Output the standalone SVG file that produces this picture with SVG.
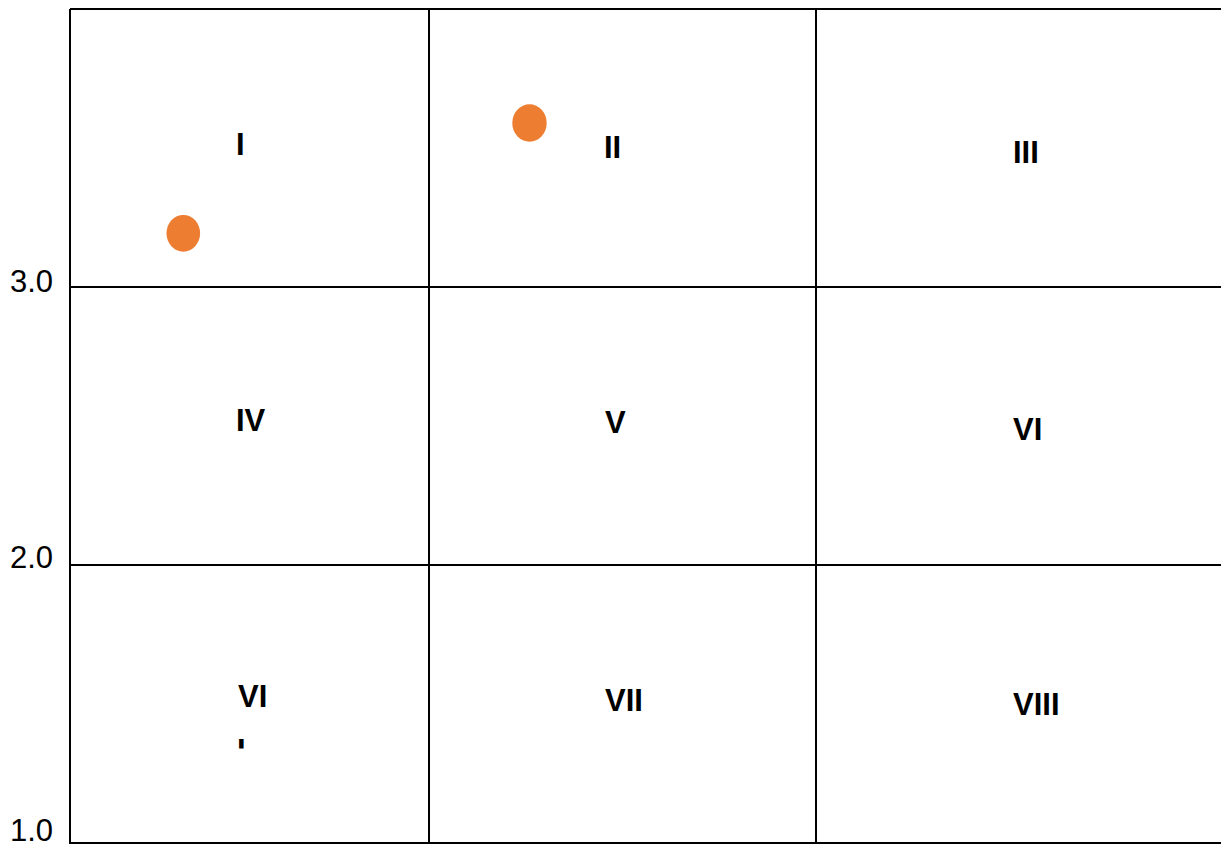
<svg xmlns="http://www.w3.org/2000/svg" width="1221" height="844" viewBox="0 0 1221 844">
  <style>
    .grid { stroke: #000; stroke-width: 2; fill: none; }
    .lbl { font-family: "Liberation Sans", Arial, sans-serif; font-weight: bold; font-size: 31px; fill: #000; }
    .axis { font-family: "Liberation Sans", Arial, sans-serif; font-size: 31px; fill: #000; }
    .dot { fill: #ED7D31; }
  </style>
  <defs>
    <clipPath id="stub">
      <rect x="230" y="738" width="20" height="10.5"/>
    </clipPath>
  </defs>
  <rect width="1221" height="844" fill="#fff"/>
  <g id="grid">
    <line class="grid" x1="70" y1="9" x2="1221" y2="9"/>
    <line class="grid" x1="70" y1="287" x2="1221" y2="287"/>
    <line class="grid" x1="70" y1="565" x2="1221" y2="565"/>
    <line class="grid" x1="70" y1="843" x2="1221" y2="843"/>
    <line class="grid" x1="70" y1="9" x2="70" y2="844"/>
    <line class="grid" x1="429" y1="9" x2="429" y2="844"/>
    <line class="grid" x1="816" y1="9" x2="816" y2="844"/>
  </g>
  <g id="axis">
    <text class="axis" x="10" y="292">3.0</text>
    <text class="axis" x="10" y="568">2.0</text>
    <text class="axis" x="10" y="841">1.0</text>
  </g>
  <g id="cell-I"><text class="lbl" x="236" y="155">I</text></g>
  <g id="cell-II"><text class="lbl" x="604" y="158">II</text></g>
  <g id="cell-III"><text class="lbl" x="1013" y="163">III</text></g>
  <g id="cell-IV"><text class="lbl" x="236" y="431">IV</text></g>
  <g id="cell-V"><text class="lbl" x="605" y="433">V</text></g>
  <g id="cell-VI"><text class="lbl" x="1013" y="440">VI</text></g>
  <g id="cell-VI-b">
    <text class="lbl" x="238" y="707">VI</text>
    <text class="lbl" x="237" y="761" clip-path="url(#stub)">I</text>
  </g>
  <g id="cell-VII"><text class="lbl" x="605" y="711">VII</text></g>
  <g id="cell-VIII"><text class="lbl" x="1013" y="715">VIII</text></g>
  <g id="points">
    <ellipse class="dot" cx="183.3" cy="233.3" rx="16.8" ry="18.4"/>
    <ellipse class="dot" cx="529.5" cy="123" rx="17.2" ry="18.7"/>
  </g>
</svg>
